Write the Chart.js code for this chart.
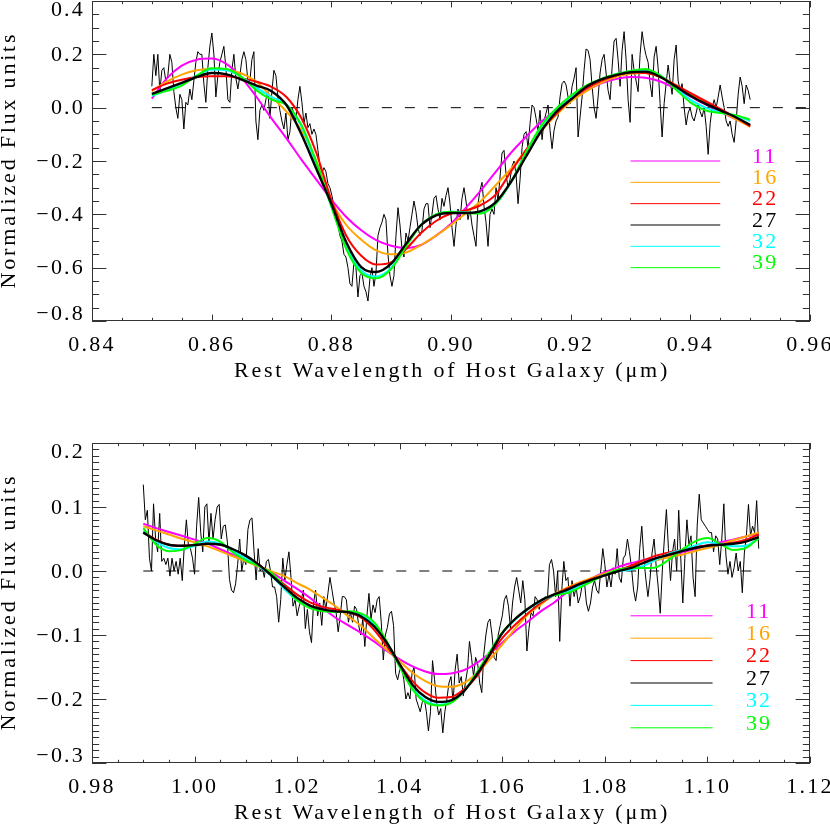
<!DOCTYPE html>
<html>
<head>
<meta charset="utf-8">
<script src="https://cdn.jsdelivr.net/npm/chart.js@4.4.1/dist/chart.umd.min.js"></script>
<style>
  body { margin: 0; background: #fff; }
  #wrap { position: relative; width: 830px; height: 826px; }
  #wrap canvas { position: absolute; left: 0; }
</style>
</head>
<body>
<div id="wrap">
  <canvas id="top-chart" width="830" height="413" style="top:0"></canvas>
  <canvas id="bottom-chart" width="830" height="413" style="top:413px"></canvas>
</div>
<script>
// fit orders shown in the key, same colours in both panels
const fitLabels = ['11', '16', '22', '27', '32', '39'];
const fitColors = ['#ff00ff', '#ffa500', '#ff0000', '#000000', '#00ffff', '#00ff00'];

// ---- top panel (0.85 - 0.95 um) ----
const topXRange = [0.84, 0.96];
const topYRange = [-0.8, 0.4];
const topNoiseStart = 0.85, topNoiseEnd = 0.95;
const topNoise = [
  0.08, 0.2, 0.12, 0.2, 0.06, 0.14, 0.15, 0.1, 0.12, 0.2,
  0.17, 0.06, 0.0, -0.04, 0.05, 0.03, -0.08, 0.02, 0.01, 0.07,
  0.03, 0.1, 0.17, 0.21, 0.2, 0.2, 0.09, 0.02, 0.15, 0.23,
  0.28, 0.2, 0.04, 0.12, 0.17, 0.2, 0.23, 0.15, 0.03, 0.02,
  0.14, 0.2, 0.11, 0.07, 0.12, 0.18, 0.21, 0.18, 0.1, 0.1,
  0.18, 0.21, -0.05, -0.12, -0.01, 0.01, -0.01, 0.03, 0.06, -0.04,
  0.06, 0.14, 0.12, 0.04, -0.01, -0.05, -0.08, -0.02, -0.12, -0.09,
  0.0, -0.02, -0.045, 0.03, 0.08, 0.02, -0.06, -0.02, -0.075, -0.06,
  -0.1, -0.08, -0.1, -0.16, -0.22, -0.245, -0.225, -0.24, -0.285, -0.3,
  -0.33, -0.37, -0.4, -0.44, -0.48, -0.5, -0.55, -0.56, -0.6, -0.66,
  -0.67, -0.58, -0.6, -0.71, -0.63, -0.62, -0.67, -0.69, -0.725, -0.64,
  -0.6, -0.67, -0.62, -0.48, -0.45, -0.43, -0.4, -0.42, -0.55, -0.63,
  -0.67, -0.63, -0.48, -0.375, -0.44, -0.53, -0.56, -0.47, -0.5, -0.45,
  -0.4, -0.35, -0.39, -0.45, -0.48, -0.46, -0.38, -0.36, -0.36, -0.45,
  -0.4, -0.34, -0.33, -0.38, -0.42, -0.34, -0.37, -0.33, -0.3, -0.36,
  -0.45, -0.52, -0.44, -0.38, -0.42, -0.34, -0.3, -0.35, -0.42, -0.38,
  -0.44, -0.48, -0.52, -0.36, -0.31, -0.28, -0.37, -0.43, -0.52, -0.4,
  -0.38, -0.4, -0.3, -0.35, -0.26, -0.17, -0.16, -0.25, -0.3, -0.27,
  -0.22, -0.2, -0.25, -0.36, -0.27, -0.15, -0.1, -0.09, -0.15, -0.06,
  0.01, 0.0, -0.04, -0.085, -0.01, -0.12, -0.05, -0.02, 0.01, -0.085,
  -0.154, -0.085, -0.05, -0.035, 0.04, 0.09, 0.1, 0.085, 0.04, 0.015,
  0.08, 0.11, 0.15, -0.11, -0.035, 0.04, 0.14, 0.22, 0.215, 0.18,
  0.08, 0.0, -0.04, 0.04, 0.13, 0.18, 0.2, 0.13, 0.065, 0.03,
  0.15, 0.25, 0.26, 0.18, 0.08, 0.215, 0.285, 0.18, 0.03, -0.055,
  0.2, 0.14, 0.1, 0.06, 0.2, 0.285, 0.23, 0.195, 0.17, 0.09,
  0.04, 0.19, 0.23, 0.15, 0.015, -0.11, 0.015, 0.09, 0.16, 0.1,
  0.05, 0.18, 0.235, 0.1, 0.065, 0.09, 0.0, -0.065, -0.02, 0.0,
  -0.035, -0.05, -0.02, 0.015, -0.015, -0.035, 0.0, -0.07, -0.175, -0.06,
  0.0, 0.03, 0.0, 0.04, 0.085, 0.04, 0.0, -0.05, -0.07, -0.05,
  -0.1, -0.13, -0.05, 0.05, 0.115, 0.08, 0.015, 0.085, 0.065, 0.03
];
const topFitStart = 0.85, topFitStep = 0.0025;
const topFit11 = [0.034, 0.11, 0.158, 0.18, 0.184, 0.163, 0.112, 0.04, -0.04, -0.115, -0.195, -0.27, -0.345, -0.41, -0.46, -0.497, -0.518, -0.527, -0.515, -0.48, -0.435, -0.375, -0.31, -0.24, -0.17, -0.11, -0.055, -0.01, 0.03, 0.062, 0.09, 0.107, 0.115, 0.112, 0.098, 0.072, 0.042, 0.012, -0.015, -0.042, -0.066];
const topFit16 = [0.062, 0.098, 0.124, 0.14, 0.146, 0.142, 0.128, 0.097, 0.04, -0.015, -0.085, -0.2, -0.35, -0.44, -0.495, -0.535, -0.55, -0.543, -0.515, -0.48, -0.44, -0.395, -0.35, -0.29, -0.23, -0.16, -0.09, -0.03, 0.022, 0.06, 0.092, 0.115, 0.127, 0.13, 0.115, 0.085, 0.05, 0.018, -0.012, -0.042, -0.072];
const topFit22 = [0.066, 0.09, 0.105, 0.115, 0.118, 0.118, 0.11, 0.097, 0.078, 0.04, -0.04, -0.17, -0.345, -0.48, -0.555, -0.588, -0.58, -0.53, -0.47, -0.425, -0.397, -0.385, -0.365, -0.325, -0.24, -0.16, -0.085, -0.025, 0.03, 0.07, 0.1, 0.12, 0.132, 0.13, 0.115, 0.085, 0.055, 0.025, -0.005, -0.035, -0.07];
const topFit27 = [0.052, 0.072, 0.093, 0.115, 0.13, 0.125, 0.105, 0.083, 0.062, 0.01, -0.1, -0.23, -0.36, -0.505, -0.598, -0.616, -0.585, -0.51, -0.44, -0.404, -0.395, -0.395, -0.388, -0.354, -0.279, -0.185, -0.091, -0.018, 0.03, 0.077, 0.105, 0.122, 0.133, 0.135, 0.115, 0.08, 0.045, 0.015, -0.01, -0.035, -0.065];
const topFit32 = [0.044, 0.066, 0.09, 0.12, 0.143, 0.14, 0.115, 0.075, 0.04, 0.012, -0.07, -0.215, -0.37, -0.52, -0.61, -0.633, -0.6, -0.515, -0.44, -0.4, -0.39, -0.393, -0.395, -0.36, -0.28, -0.17, -0.075, -0.01, 0.04, 0.08, 0.105, 0.125, 0.138, 0.142, 0.12, 0.075, 0.03, 0.0, -0.017, -0.03, -0.05];
const topFit39 = [0.049, 0.063, 0.083, 0.12, 0.148, 0.145, 0.115, 0.065, 0.03, 0.01, -0.065, -0.205, -0.37, -0.53, -0.62, -0.64, -0.605, -0.52, -0.44, -0.4, -0.39, -0.395, -0.397, -0.36, -0.28, -0.17, -0.07, -0.005, 0.045, 0.082, 0.107, 0.125, 0.138, 0.145, 0.12, 0.07, 0.02, -0.01, -0.02, -0.028, -0.045];
const topZeroLine = [0.85, 0.96];
const topLegendX = [0.93, 0.945], topLegendTextX = 0.9503;
const topLegendY = [-0.2, -0.28, -0.36, -0.44, -0.52, -0.6];

// ---- bottom panel (0.99 - 1.11 um) ----
const bottomXRange = [0.98, 1.12];
const bottomYRange = [-0.3, 0.2];
const bottomNoiseStart = 0.99, bottomNoiseEnd = 1.11;
const bottomNoise = [
  0.135, 0.08, 0.095, 0.02, 0.0, 0.105, 0.05, 0.03, 0.09, 0.015,
  0.02, 0.01, 0.02, -0.008, 0.02, 0.0, 0.015, -0.005, 0.02, -0.015,
  0.04, 0.08, 0.04, 0.035, 0.02, -0.005, 0.07, 0.115, 0.06, 0.03,
  0.1, 0.105, 0.045, 0.09, 0.05, 0.08, 0.1, 0.104, 0.05, 0.07,
  0.072, 0.045, -0.013, -0.03, -0.034, -0.02, 0.01, 0.05, 0.0, 0.02,
  0.01, 0.065, 0.08, 0.083, 0.03, -0.014, 0.035, 0.0, 0.005, -0.01,
  0.015, 0.018, 0.0, -0.025, -0.025, -0.04, -0.08, -0.045, 0.02, -0.015,
  0.01, 0.03, -0.01, -0.055, -0.045, -0.07, -0.055, -0.045, -0.03, -0.09,
  -0.06, -0.095, -0.112, -0.05, -0.03, -0.07, -0.05, -0.085, -0.04, -0.06,
  -0.035, -0.01, -0.03, -0.05, -0.065, -0.095, -0.07, -0.04, -0.04, -0.045,
  -0.08, -0.065, -0.08, -0.055, -0.06, -0.085, -0.1, -0.075, -0.118, -0.07,
  -0.035, -0.075, -0.053, -0.065, -0.045, -0.04, -0.08, -0.139, -0.1, -0.088,
  -0.067, -0.063, -0.085, -0.16, -0.17, -0.155, -0.15, -0.17, -0.2, -0.19,
  -0.2, -0.16, -0.15, -0.2, -0.21, -0.22, -0.205, -0.2, -0.22, -0.25,
  -0.22, -0.14, -0.17, -0.205, -0.225, -0.215, -0.253, -0.22, -0.2, -0.175,
  -0.165, -0.205, -0.155, -0.13, -0.175, -0.165, -0.195, -0.175, -0.155, -0.11,
  -0.135, -0.165, -0.135, -0.145, -0.175, -0.19, -0.13, -0.1, -0.08, -0.075,
  -0.1, -0.135, -0.14, -0.1, -0.085, -0.07, -0.045, -0.038, -0.055, -0.09,
  -0.05, -0.025, -0.01, -0.03, -0.05, -0.015, -0.045, -0.125, -0.09, -0.065,
  -0.07, -0.04, -0.045, -0.06, -0.045, -0.05, -0.04, -0.045, 0.01, 0.018,
  0.0, -0.04, 0.0, -0.11, -0.03, 0.015, -0.015, -0.01, -0.055, -0.015,
  -0.04, -0.025, -0.05, -0.04, -0.02, -0.015, -0.05, -0.063, -0.05, -0.025,
  -0.015, -0.03, -0.035, 0.0, 0.035, 0.01, -0.025, -0.005, -0.025, 0.005,
  -0.005, 0.035, -0.01, -0.018, 0.02, 0.025, 0.05, 0.03, 0.005, -0.03,
  -0.047, -0.025, 0.035, 0.07, 0.02, -0.013, -0.04, -0.013, 0.028, 0.05,
  0.008, -0.025, -0.066, 0.0, 0.05, 0.096, 0.035, -0.015, 0.03, 0.05,
  0.0, 0.095, 0.02, -0.05, 0.02, 0.08, 0.04, 0.055, -0.01, -0.04,
  0.07, 0.12, 0.08, 0.075, 0.07, 0.065, 0.06, 0.06, 0.03, 0.055,
  0.05, 0.01, 0.05, 0.105, 0.025, -0.005, 0.015, -0.01, 0.005, 0.028,
  0.0, 0.015, -0.034, 0.028, 0.055, 0.104, 0.055, 0.07, 0.06, 0.11,
  0.035
];
const bottomFitStart = 0.99, bottomFitStep = 0.0025;
const bottomFit11 = [0.074, 0.067, 0.061, 0.055, 0.049, 0.043, 0.034, 0.0255, 0.017, 0.008, -0.002, -0.015, -0.028, -0.042, -0.058, -0.073, -0.085, -0.097, -0.11, -0.125, -0.138, -0.149, -0.157, -0.161, -0.16, -0.155, -0.144, -0.129, -0.112, -0.094, -0.079, -0.063, -0.05, -0.034, -0.021, -0.011, -0.002, 0.006, 0.012, 0.017, 0.02, 0.024, 0.029, 0.034, 0.04, 0.045, 0.049, 0.054, 0.058];
const bottomFit16 = [0.07, 0.0635, 0.057, 0.0505, 0.045, 0.0385, 0.031, 0.023, 0.015, 0.007, -0.0005, -0.008, -0.019, -0.029, -0.042, -0.055, -0.071, -0.086, -0.105, -0.123, -0.141, -0.159, -0.172, -0.18, -0.181, -0.175, -0.16, -0.1385, -0.115, -0.09, -0.068, -0.0525, -0.037, -0.0265, -0.018, -0.011, -0.004, 0.002, 0.007, 0.0125, 0.0167, 0.022, 0.0255, 0.031, 0.036, 0.041, 0.048, 0.054, 0.06];
const bottomFit22 = [0.062, 0.049, 0.041, 0.0395, 0.0405, 0.0425, 0.041, 0.033, 0.022, 0.01, -0.006, -0.021, -0.037, -0.049, -0.056, -0.06, -0.0645, -0.073, -0.092, -0.118, -0.146, -0.172, -0.19, -0.198, -0.197, -0.185, -0.165, -0.133, -0.105, -0.084, -0.066, -0.05, -0.038, -0.028, -0.02, -0.0125, -0.006, 0.001, 0.008, 0.0167, 0.024, 0.029, 0.033, 0.0375, 0.04, 0.041, 0.044, 0.049, 0.057];
const bottomFit27 = [0.06, 0.048, 0.041, 0.0395, 0.0405, 0.0425, 0.0415, 0.034, 0.024, 0.01, -0.007, -0.025, -0.042, -0.054, -0.06, -0.063, -0.0645, -0.071, -0.0865, -0.1125, -0.146, -0.178, -0.197, -0.2045, -0.202, -0.188, -0.162, -0.131, -0.097, -0.075, -0.059, -0.046, -0.037, -0.03, -0.021, -0.0135, -0.007, -0.0005, 0.0045, 0.0125, 0.02, 0.0255, 0.031, 0.036, 0.0395, 0.041, 0.0425, 0.046, 0.053];
const bottomFit32 = [0.062, 0.046, 0.036, 0.034, 0.0395, 0.046, 0.0425, 0.031, 0.02, 0.008, -0.008, -0.028, -0.046, -0.056, -0.0615, -0.064, -0.064, -0.069, -0.084, -0.1125, -0.149, -0.183, -0.2025, -0.209, -0.205, -0.188, -0.16, -0.128, -0.097, -0.076, -0.06, -0.047, -0.038, -0.032, -0.024, -0.0145, -0.006, -0.0005, 0.002, 0.008, 0.0177, 0.027, 0.033, 0.0395, 0.045, 0.0425, 0.0385, 0.0395, 0.0515];
const bottomFit39 = [0.067, 0.041, 0.031, 0.033, 0.0425, 0.0515, 0.046, 0.029, 0.0167, 0.008, -0.003, -0.024, -0.046, -0.058, -0.063, -0.064, -0.063, -0.0665, -0.08, -0.11, -0.15, -0.185, -0.205, -0.21, -0.206, -0.188, -0.159, -0.127, -0.096, -0.075, -0.059, -0.046, -0.038, -0.035, -0.0265, -0.016, -0.006, 0.002, 0.0045, 0.0045, 0.006, 0.0177, 0.033, 0.046, 0.0515, 0.0425, 0.033, 0.036, 0.0515];
const bottomZeroLine = [0.99, 1.11];
const bottomLegendX = [1.085, 1.101], bottomLegendTextX = 1.1075;
const bottomLegendY = [-0.07, -0.105, -0.14, -0.175, -0.21, -0.245];

const FONT = 'Liberation Serif';
const FONT_CSS = '22px "Liberation Serif"';
const xTitle = 'Rest Wavelength of Host Galaxy (\u03bcm)';
const yTitle = 'Normalized Flux units';
const minus = s => s.replace('-', '\u2212');

// box, inward ticks on all four sides, y labels, titles and the key numbers
const framePlugin = {
  id: 'frame',
  beforeDraw(chart) {
    chart.ctx.letterSpacing = '2.2px';
  },
  afterDraw(chart, args, o) {
    const {ctx, chartArea: a, scales: {x, y}} = chart;
    const w = a.right - a.left, h = a.bottom - a.top;
    ctx.save();
    ctx.strokeStyle = '#333';
    ctx.lineWidth = 1;
    ctx.strokeRect(a.left + 0.5, a.top + 0.5, w - 1, h - 1);
    ctx.beginPath();
    const xStep = o.xMajor / o.xMinor;
    const nx = Math.round((x.max - x.min) / xStep);
    for (let k = 0; k <= nx; k++) {
      const px = Math.round(x.getPixelForValue(x.min + k * xStep)) + 0.5;
      const len = (k % o.xMinor === 0 ? 0.02 : 0.01) * h;
      ctx.moveTo(px, a.bottom); ctx.lineTo(px, a.bottom - len);
      ctx.moveTo(px, a.top); ctx.lineTo(px, a.top + len);
    }
    const yStep = o.yMajor / o.yMinor;
    const ny = Math.round((y.max - y.min) / yStep);
    for (let k = 0; k <= ny; k++) {
      const py = Math.round(y.getPixelForValue(y.min + k * yStep)) + 0.5;
      const len = (k % o.yMinor === 0 ? 0.02 : 0.01) * w;
      ctx.moveTo(a.left, py); ctx.lineTo(a.left + len, py);
      ctx.moveTo(a.right, py); ctx.lineTo(a.right - len, py);
    }
    ctx.stroke();

    ctx.fillStyle = '#000';
    ctx.font = FONT_CSS;
    ctx.letterSpacing = '2.2px';
    ctx.textAlign = 'right';
    ctx.textBaseline = 'middle';
    const nMaj = Math.round((y.max - y.min) / o.yMajor);
    for (let k = 0; k <= nMaj; k++) {
      const v = y.min + k * o.yMajor;
      let py = y.getPixelForValue(v) + 1;
      if (k === 0) py -= 8;
      if (k === nMaj) py += 8;
      const txt = Math.abs(v) < 1e-9 ? '0.0' : minus(v.toFixed(1));
      ctx.fillText(txt, a.left - 7, py);
    }

    ctx.textAlign = 'left';
    o.legendY.forEach((ly, k) => {
      ctx.fillStyle = fitColors[k];
      ctx.fillText(fitLabels[k], x.getPixelForValue(o.legendTextX), y.getPixelForValue(ly) - 4);
    });

    ctx.fillStyle = '#000';
    ctx.letterSpacing = '2.8px';
    ctx.textAlign = 'center';
    ctx.fillText(xTitle, (a.left + a.right) / 2 + 1, a.bottom + 50);
    ctx.translate(9, (a.top + a.bottom) / 2);
    ctx.rotate(-Math.PI / 2);
    ctx.fillText(yTitle, 1, 0);
    ctx.restore();
  }
};

function grid(start, step, n) {
  const out = [];
  for (let i = 0; i < n; i++) out.push(start + i * step);
  return out;
}

function makePanel(id, p) {
  const fitX = grid(p.fitStart, p.fitStep, p.fits[0].length);
  const noiseX = grid(p.noiseStart, (p.noiseEnd - p.noiseStart) / (p.noise.length - 1), p.noise.length);
  const fitOrder = [6, 5, 4, 1, 3, 2];
  const datasets = p.fits.map((vals, k) => ({
    data: vals.map((v, i) => ({x: fitX[i], y: v})),
    borderColor: fitColors[k],
    borderWidth: k === 3 ? 2.4 : 2,
    cubicInterpolationMode: 'monotone',
    order: fitOrder[k]
  }));
  datasets.push({
    data: p.noise.map((v, i) => ({x: noiseX[i], y: v})),
    borderColor: '#000', borderWidth: 1, order: 10
  });
  datasets.push({
    data: [{x: p.zero[0], y: 0}, {x: p.zero[1], y: 0}],
    borderColor: '#000', borderWidth: 1, borderDash: [10, 13], order: 9
  });
  p.legendY.forEach((ly, k) => datasets.push({
    data: [{x: p.legendX[0], y: ly}, {x: p.legendX[1], y: ly}],
    borderColor: fitColors[k], borderWidth: 1, order: 8
  }));

  return new Chart(document.getElementById(id), {
    type: 'line',
    data: {datasets},
    plugins: [framePlugin],
    options: {
      responsive: false,
      animation: false,
      devicePixelRatio: 1,
      layout: {padding: {top: p.areaTop, right: 20, left: 0, bottom: 0}},
      elements: {point: {radius: 0}, line: {tension: 0, fill: false}},
      plugins: {
        legend: {display: false},
        tooltip: {enabled: false},
        frame: {xMajor: 0.02, xMinor: 4, yMajor: p.yMajor, yMinor: p.yMinor,
                legendY: p.legendY, legendTextX: p.legendTextX}
      },
      scales: {
        x: {
          type: 'linear', min: p.xRange[0], max: p.xRange[1],
          ticks: {stepSize: 0.02, callback: v => v.toFixed(2), color: '#000',
                  font: {family: FONT, size: 22}, padding: 11, maxRotation: 0, autoSkip: false},
          grid: {display: false, drawTicks: false},
          border: {display: false},
          afterFit: s => { s.height = p.xAxisHeight; s.paddingLeft = 0; s.paddingRight = 0; }
        },
        y: {
          type: 'linear', min: p.yRange[0], max: p.yRange[1],
          ticks: {display: false, stepSize: p.yMajor},
          grid: {display: false, drawTicks: false},
          border: {display: false},
          afterFit: s => { s.width = 92; s.paddingTop = 0; s.paddingBottom = 0; }
        }
      }
    }
  });
}

makePanel('top-chart', {
  xRange: topXRange, yRange: topYRange, yMajor: 0.2, yMinor: 4,
  noise: topNoise, noiseStart: topNoiseStart, noiseEnd: topNoiseEnd,
  fits: [topFit11, topFit16, topFit22, topFit27, topFit32, topFit39],
  fitStart: topFitStart, fitStep: topFitStep, zero: topZeroLine,
  legendX: topLegendX, legendY: topLegendY, legendTextX: topLegendTextX,
  areaTop: 1, xAxisHeight: 92
});

makePanel('bottom-chart', {
  xRange: bottomXRange, yRange: bottomYRange, yMajor: 0.1, yMinor: 10,
  noise: bottomNoise, noiseStart: bottomNoiseStart, noiseEnd: bottomNoiseEnd,
  fits: [bottomFit11, bottomFit16, bottomFit22, bottomFit27, bottomFit32, bottomFit39],
  fitStart: bottomFitStart, fitStep: bottomFitStep, zero: bottomZeroLine,
  legendX: bottomLegendX, legendY: bottomLegendY, legendTextX: bottomLegendTextX,
  areaTop: 30, xAxisHeight: 63
});
</script>
</body>
</html>
